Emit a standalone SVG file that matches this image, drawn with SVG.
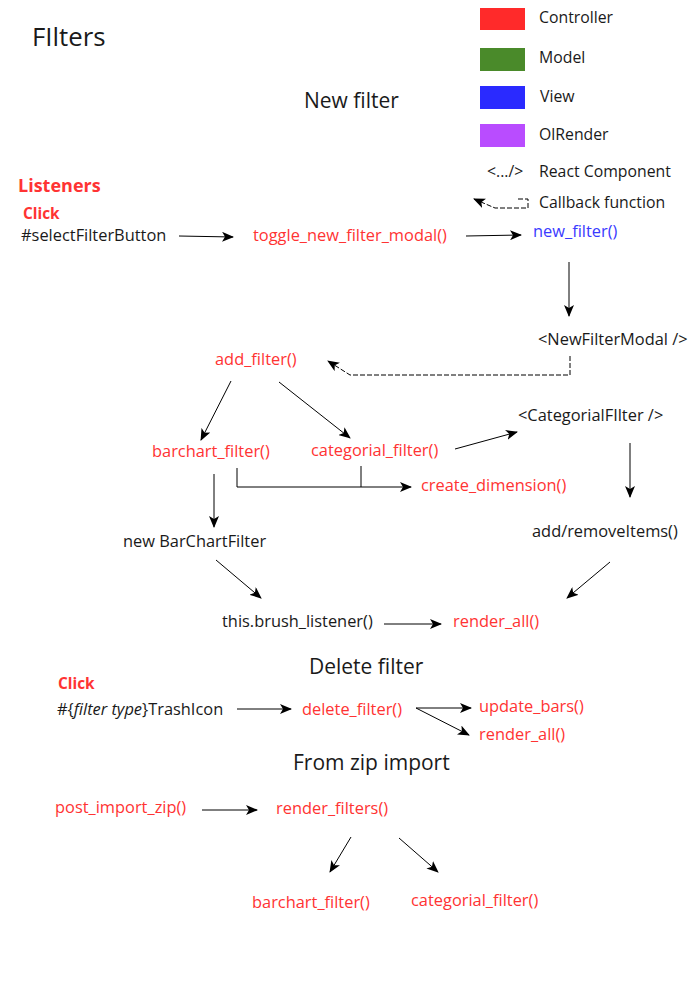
<svg xmlns="http://www.w3.org/2000/svg" width="691" height="981" viewBox="0 0 691 981">
<style>
text{font-family:"Open Sans","DejaVu Sans",sans-serif;font-size:16.4px;fill:#1a1a1a}
.r{fill:#ff3333}
.b{fill:#3a3aff}
.h{font-size:21px}
.lg{font-size:15.8px}
.bold{font-weight:bold}
.ln{stroke:#000;stroke-width:1;fill:none}
.ar{marker-end:url(#ah)}
.d{stroke-dasharray:5,2}
</style>
<defs>
<marker id="ah" markerUnits="userSpaceOnUse" markerWidth="12" markerHeight="10" viewBox="0 0 12 10" refX="11" refY="5" orient="auto">
<path d="M0,0 L12,5 L0,10 L3,5 Z" fill="#000"/>
</marker>
</defs>
<rect width="691" height="981" fill="#fff"/>
<g id="titles">
<text x="32" y="46" style="font-size:25.8px">FIlters</text>
<text x="304" y="108" class="h">New filter</text>
<text x="309" y="674" class="h">Delete filter</text>
<text x="293" y="770" class="h">From zip import</text>
</g>
<g id="legend">
<rect x="480" y="8" width="45" height="22" fill="#ff2a2a"/>
<text x="539" y="23" class="lg">Controller</text>
<rect x="480" y="48" width="45" height="23" fill="#4a8a2a"/>
<text x="539" y="63" class="lg">Model</text>
<rect x="480" y="86" width="45" height="23" fill="#2a2aff"/>
<text x="540" y="102" class="lg">View</text>
<rect x="480" y="124" width="45" height="23" fill="#b94cff"/>
<text x="539" y="140" class="lg">OlRender</text>
<text x="487" y="177" class="lg">&lt;.../&gt;</text>
<text x="539" y="177" class="lg">React Component</text>
<path class="ln d ar" d="M518,199 L528,199 L528,208 L495,208 L474,199"/>
<text x="539" y="208" class="lg">Callback function</text>
</g>
<g id="listeners">
<text x="18" y="192" class="r bold" style="font-size:18px">Listeners</text>
<text x="23" y="219" class="r bold" style="font-size:15.4px">Click</text>
</g>
<g id="selectFilterButton"><text x="21" y="241">#selectFilterButton</text></g>
<g id="toggle_new_filter_modal"><text x="253" y="241" class="r">toggle_new_filter_modal()</text></g>
<g id="new_filter"><text x="533" y="237" class="b">new_filter()</text></g>
<g id="NewFilterModal"><text x="538" y="345">&lt;NewFilterModal /&gt;</text></g>
<g id="add_filter"><text x="215" y="365" class="r">add_filter()</text></g>
<g id="barchart_filter"><text x="152" y="457" class="r">barchart_filter()</text></g>
<g id="categorial_filter"><text x="311" y="456" class="r">categorial_filter()</text></g>
<g id="CategorialFilter"><text x="518" y="421">&lt;CategorialFIlter /&gt;</text></g>
<g id="create_dimension"><text x="421" y="491" class="r">create_dimension()</text></g>
<g id="add_removeItems"><text x="532" y="537">add/removeItems()</text></g>
<g id="new_BarChartFilter"><text x="123" y="547">new BarChartFilter</text></g>
<g id="brush_listener"><text x="222" y="627">this.brush_listener()</text></g>
<g id="render_all_1"><text x="453" y="627" class="r">render_all()</text></g>
<g id="click2"><text x="58" y="689" class="r bold" style="font-size:15.4px">Click</text></g>
<g id="TrashIcon"><text x="57" y="715">#{<tspan font-style="italic">filter type</tspan>}TrashIcon</text></g>
<g id="delete_filter"><text x="302" y="715" class="r">delete_filter()</text></g>
<g id="update_bars"><text x="479" y="712" class="r">update_bars()</text></g>
<g id="render_all_2"><text x="479" y="740" class="r">render_all()</text></g>
<g id="post_import_zip"><text x="55" y="813" class="r">post_import_zip()</text></g>
<g id="render_filters"><text x="276" y="814" class="r">render_filters()</text></g>
<g id="barchart_filter_2"><text x="252" y="908" class="r">barchart_filter()</text></g>
<g id="categorial_filter_2"><text x="411" y="906" class="r">categorial_filter()</text></g>
<g id="connectors">
<path class="ln ar" d="M179,236 L233,237"/>
<path class="ln ar" d="M466,236 L521,235"/>
<path class="ln ar" d="M569,262 L569,316"/>
<path class="ln d ar" d="M570,356 L570,375 L350,375 L328,361"/>
<path class="ln ar" d="M231,381 L201,440"/>
<path class="ln ar" d="M279,382 L350,438"/>
<path class="ln ar" d="M455,449 L517,432"/>
<path class="ln ar" d="M630,443 L630,497"/>
<path class="ln ar" d="M237,468 L237,487 L411,487"/>
<path class="ln" d="M361,466 L361,487"/>
<path class="ln ar" d="M214,474 L214,527"/>
<path class="ln ar" d="M216,560 L261,598"/>
<path class="ln ar" d="M610,562 L567,598"/>
<path class="ln ar" d="M384,624 L441,624"/>
<path class="ln ar" d="M237,709 L291,709"/>
<path class="ln ar" d="M416,708 L471,708"/>
<path class="ln ar" d="M416,708 L469,735"/>
<path class="ln ar" d="M202,810 L257,810"/>
<path class="ln ar" d="M351,837 L330,872"/>
<path class="ln ar" d="M399,838 L438,872"/>
</g>
</svg>
